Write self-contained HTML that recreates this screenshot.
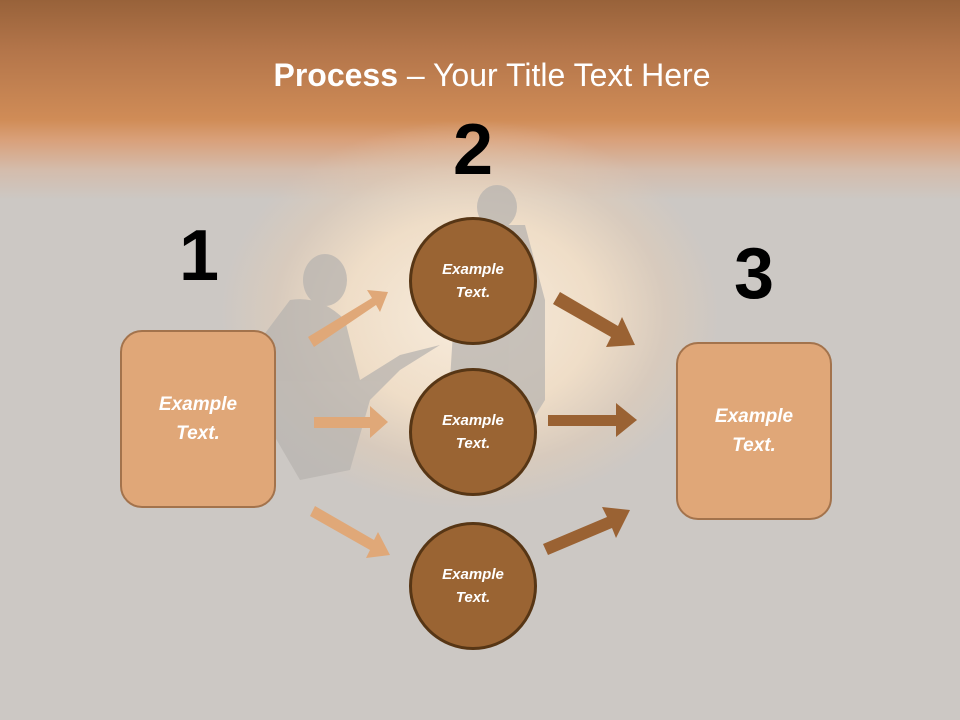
<!DOCTYPE html>
<html><head><style>
html,body{margin:0;padding:0;}
body{width:960px;height:720px;position:relative;overflow:hidden;font-family:"Liberation Sans",sans-serif;
background:linear-gradient(to bottom,#98623a 0px,#b3754a 50px,#d08c57 120px,#d9a07a 140px,#d4bcac 170px,#ccc8c4 200px,#ccc8c4 720px);}
.photo{position:absolute;left:220px;top:120px;width:500px;height:390px;
background:radial-gradient(closest-side,rgba(250,238,222,0.95) 0%,rgba(245,225,200,0.85) 50%,rgba(230,205,180,0.45) 78%,rgba(204,200,196,0) 100%);}
.title{position:absolute;left:0;width:984px;top:57px;text-align:center;color:#fff;font-size:32px;}
.num{position:absolute;font-weight:bold;font-size:72px;color:#000;width:100px;text-align:center;line-height:1;}
.box{position:absolute;width:152px;height:174px;border:2px solid #a3734c;border-radius:22px;background:#e0a778;color:#fff;font-style:italic;font-weight:bold;font-size:19px;display:flex;align-items:center;justify-content:center;text-align:center;line-height:29px;}
.circ{position:absolute;width:122px;height:122px;border:3px solid #573615;border-radius:50%;background:#9a6433;color:#fff;font-style:italic;font-weight:bold;font-size:15px;display:flex;align-items:center;justify-content:center;text-align:center;line-height:23px;}
</style></head><body>
<div class="photo"></div>
<svg width="960" height="720" style="position:absolute;left:0;top:0">
<g fill="#b8b4b0" opacity="0.75">
<ellipse cx="325" cy="280" rx="22" ry="26"/>
<path d="M290 300 Q320 295 345 320 L360 380 L400 355 L440 345 L400 370 L370 400 L350 470 L300 480 L265 420 L260 340 Z"/>
<ellipse cx="497" cy="207" rx="20" ry="22"/>
<path d="M470 225 L525 225 L545 300 L545 400 L520 440 L460 440 L450 380 L455 300 Z"/>
</g>
<g fill="#e0a878">
<polygon points="308,337 372,298 367,290 388,292 380,312 376,305 314,347"/>
<polygon points="314,417 370,417 370,406 388,422 370,438 370,428 314,428"/>
<polygon points="315,506 374,540 378,532 390,555 366,558 370,550 310,516"/>
</g>
<g fill="#9a6233">
<polygon points="560,292 618,326 622,317 635,345 606,347 611,337 553,304"/>
<polygon points="548,415 616,415 616,403 637,420 616,437 616,426 548,426"/>
<polygon points="543,544 607,517 602,507 630,510 616,538 612,528 548,555"/>
</g>
</svg>
<div class="title"><b>Process</b> – Your Title Text Here</div>
<div class="num" style="left:149px;top:220px">1</div>
<div class="num" style="left:423px;top:114px">2</div>
<div class="num" style="left:704px;top:238px">3</div>
<div class="box" style="left:120px;top:330px">Example<br>Text.</div>
<div class="box" style="left:676px;top:342px">Example<br>Text.</div>
<div class="circ" style="left:409px;top:217px">Example<br>Text.</div>
<div class="circ" style="left:409px;top:368px">Example<br>Text.</div>
<div class="circ" style="left:409px;top:522px">Example<br>Text.</div>
</body></html>
